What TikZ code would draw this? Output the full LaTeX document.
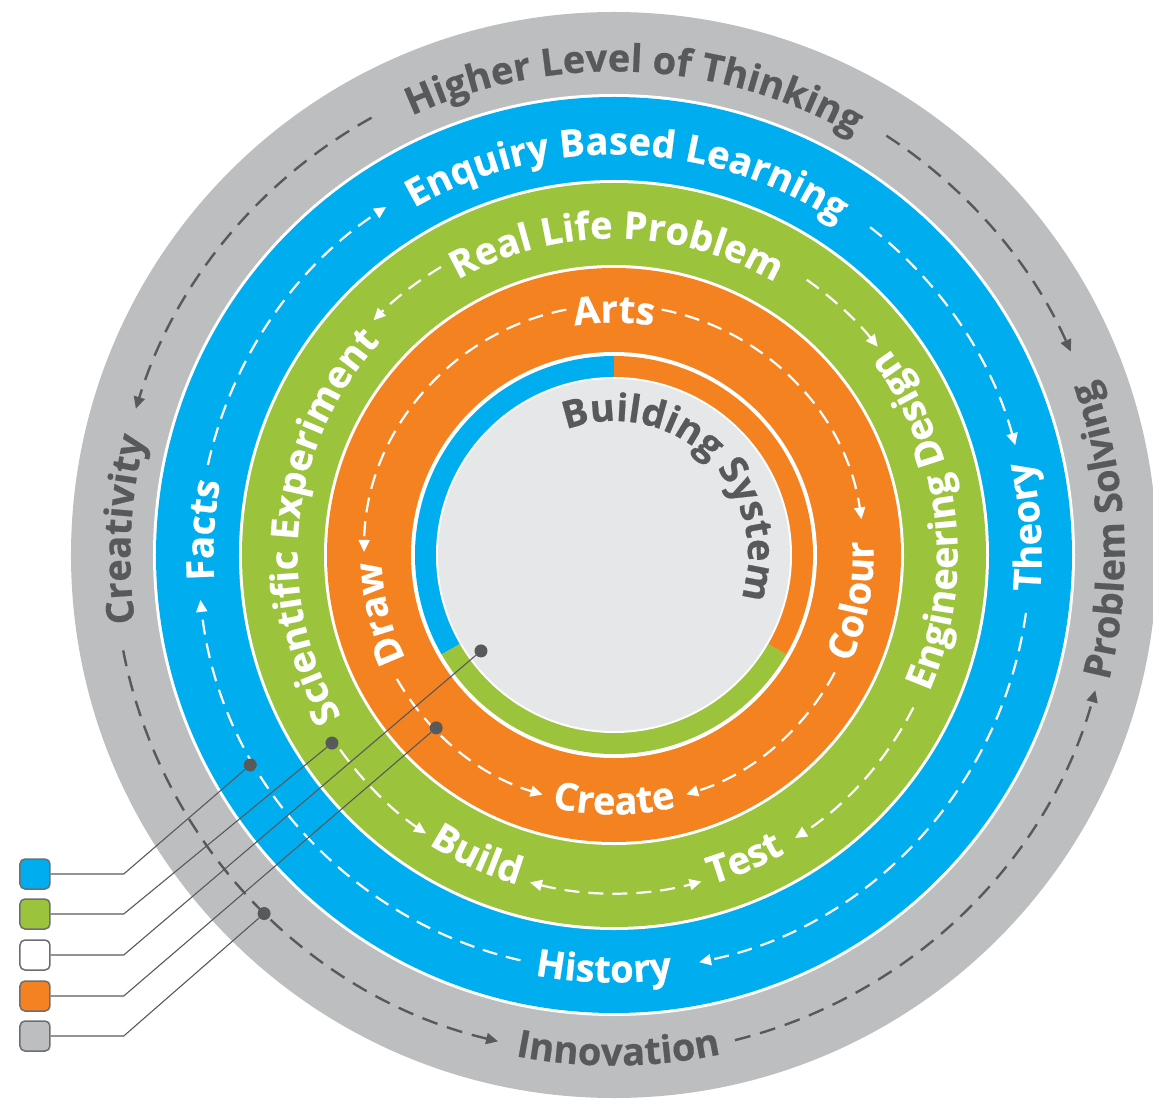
\documentclass[tikz,border=0pt]{standalone}
\usepackage{fontspec}
\setmainfont{Open Sans}[BoldFeatures={FakeBold=0.6}]
\usetikzlibrary{arrows.meta,decorations.text}
\definecolor{ringgray}{HTML}{BCBEC0}
\definecolor{ringblue}{HTML}{00AEEF}
\definecolor{ringgreen}{HTML}{9BC33C}
\definecolor{ringorange}{HTML}{F58220}
\definecolor{coregray}{HTML}{E6E7E8}
\definecolor{ink}{HTML}{58595B}
\definecolor{edge}{HTML}{6D6E71}
\newcommand\ringfont{\fontsize{38}{44}\selectfont\bfseries}

\begin{document}
\begin{tikzpicture}[x=1pt,y=1pt,
      >={Triangle[length=12pt,width=11pt]},
      wdash/.style={white,line width=2.2pt,dash pattern=on 15pt off 9pt},
      kdash/.style={ink,line width=2.4pt,dash pattern=on 16pt off 10pt},
      wlabel/.style={decorate,decoration={text along path,text align=center,text color=white,text={|\ringfont|#1}}},
      klabel/.style={decorate,decoration={text along path,text align=center,text color=ink,text={|\ringfont|#1}}},
      keybox/.style={draw=edge,line width=1.5pt,rounded corners=5pt,minimum width=30pt,minimum height=30pt,inner sep=0pt},
      lead/.style={ink,line width=1.1pt},
      pin/.style={circle,fill=ink,inner sep=0pt,minimum size=13pt}]
    \useasboundingbox (-614,-545) rectangle (539,555);
    % Rings, from the outside in
    \fill[ringgray] (0,0) circle[radius=543];
    \fill[white] (0,0) circle[radius=461];
    \fill[ringblue] (0,0) circle[radius=458];
    \fill[white] (0,0) circle[radius=375];
    \fill[ringgreen] (0,0) circle[radius=372];
    \fill[white] (0,0) circle[radius=290];
    \fill[ringorange] (0,0) circle[radius=287];
    \fill[white] (0,0) circle[radius=203];
    % Core band in three thirds
    \fill[ringblue] (0,0) -- (90:199) arc[start angle=90,end angle=210,radius=199] -- cycle;
    \fill[ringgreen] (0,0) -- (210:199) arc[start angle=210,end angle=330,radius=199] -- cycle;
    \fill[ringorange] (0,0) -- (330:199) arc[start angle=330,end angle=450,radius=199] -- cycle;
    \fill[white] (0,0) circle[radius=178];
    \fill[coregray] (0,0) circle[radius=176];
    % Outer ring labels
    \path[klabel={Higher Level of Thinking}] (167.5:483.5) arc[start angle=167.5,end angle=7.5,radius=483.5];
    \path[klabel={Creativity}] (257:483.5) arc[start angle=257,end angle=97,radius=483.5];
    \path[klabel={Innovation}] (190.5:510.5) arc[start angle=190.5,end angle=350.5,radius=510.5];
    \path[klabel={Problem Solving}] (-77.1:510.5) arc[start angle=-77.1,end angle=82.9,radius=510.5];
    % Blue ring labels
    \path[wlabel={Enquiry Based Learning}] (168:400.5) arc[start angle=168,end angle=8,radius=400.5];
    \path[wlabel={Facts}] (256.5:400.5) arc[start angle=256.5,end angle=96.5,radius=400.5];
    \path[wlabel={History}] (188.6:427.5) arc[start angle=188.6,end angle=348.6,radius=427.5];
    \path[wlabel={Theory}] (-76.1:427.5) arc[start angle=-76.1,end angle=83.9,radius=427.5];
    % Green ring labels
    \path[wlabel={Real Life Problem}] (169.5:316.5) arc[start angle=169.5,end angle=9.5,radius=316.5];
    \path[wlabel={Scientific Experiment}] (254.1:316.5) arc[start angle=254.1,end angle=94.1,radius=316.5];
    \path[wlabel={Engineering Design}] (-73.3:343.5) arc[start angle=-73.3,end angle=86.7,radius=343.5];
    \path[wlabel={Build}] (205.5:343.5) arc[start angle=205.5,end angle=285.5,radius=343.5];
    \path[wlabel={Test}] (253.2:343.5) arc[start angle=253.2,end angle=333.2,radius=343.5];
    % Orange ring labels
    \path[wlabel={Arts}] (170:232.5) arc[start angle=170,end angle=10,radius=232.5];
    \path[wlabel={Draw}] (274:232.5) arc[start angle=274,end angle=114,radius=232.5];
    \path[wlabel={Colour}] (-90.8:259.5) arc[start angle=-90.8,end angle=69.2,radius=259.5];
    \path[wlabel={Create}] (190:259.5) arc[start angle=190,end angle=350,radius=259.5];
    % Core label
    \path[klabel={Building System}] (126:134) arc[start angle=126,end angle=-34,radius=134];
    % Dashed paths, outer ring
    \draw[kdash,->] (119:500) arc[start angle=119,end angle=163,radius=500];
    \draw[kdash,->] (57:500) arc[start angle=57,end angle=24,radius=500];
    \draw[kdash,->] (191:500) arc[start angle=191,end angle=256.6,radius=500];
    \draw[kdash,->] (284:500) arc[start angle=284,end angle=344.3,radius=500];
    % Dashed paths, blue ring
    \draw[wdash,->] (167.5:416) arc[start angle=167.5,end angle=123.2,radius=416];
    \draw[wdash,->] (52:416) arc[start angle=52,end angle=15.3,radius=416];
    \draw[wdash,->] (-8:416) arc[start angle=-8,end angle=-78.2,radius=416];
    \draw[wdash,->] (257:416) arc[start angle=257,end angle=186.2,radius=416];
    % Dashed paths, green ring
    \draw[wdash,->] (121:336) arc[start angle=121,end angle=135.7,radius=336];
    \draw[wdash,->] (55:336) arc[start angle=55,end angle=38.3,radius=336];
    \draw[wdash,->] (215.4:336) arc[start angle=215.4,end angle=236,radius=336];
    \draw[wdash,->] (-27:336) arc[start angle=-27,end angle=-57.4,radius=336];
    \draw[wdash,<->] (255.6:338) arc[start angle=255.6,end angle=285,radius=338];
    % Dashed paths, orange ring
    \draw[wdash,->] (101:250) arc[start angle=101,end angle=179.3,radius=250];
    \draw[wdash,->] (79:250) arc[start angle=79,end angle=8.2,radius=250];
    \draw[wdash,->] (209.7:250) arc[start angle=209.7,end angle=253.4,radius=250];
    \draw[wdash,->] (-28:250) arc[start angle=-28,end angle=-73.2,radius=250];
    % Key boxes
    \node[keybox,fill=ringblue] (keyblue) at (-579,-319) {};
    \node[keybox,fill=ringgreen] (keygreen) at (-579,-359) {};
    \node[keybox,fill=white] (keycore) at (-579,-400) {};
    \node[keybox,fill=ringorange] (keyorange) at (-579,-441) {};
    \node[keybox,fill=ringgray] (keygray) at (-579,-481) {};
    % Pins on the rings
    \node[pin] (pinblue) at (210:420) {};
    \node[pin] (pingreen) at (213.7:339) {};
    \node[pin] (pincore) at (215.8:164) {};
    \node[pin] (pinorange) at (224.2:248) {};
    \node[pin] (pingray) at (225.7:501) {};
    % Leaders from key to pin
    \draw[lead] (keyblue.east) -- ++(73,0) -- (pinblue);
    \draw[lead] (keygreen.east) -- ++(73,0) -- (pingreen);
    \draw[lead] (keycore.east) -- ++(73,0) -- (pincore);
    \draw[lead] (keyorange.east) -- ++(73,0) -- (pinorange);
    \draw[lead] (keygray.east) -- ++(73,0) -- (pingray);
  \end{tikzpicture}
\end{document}
